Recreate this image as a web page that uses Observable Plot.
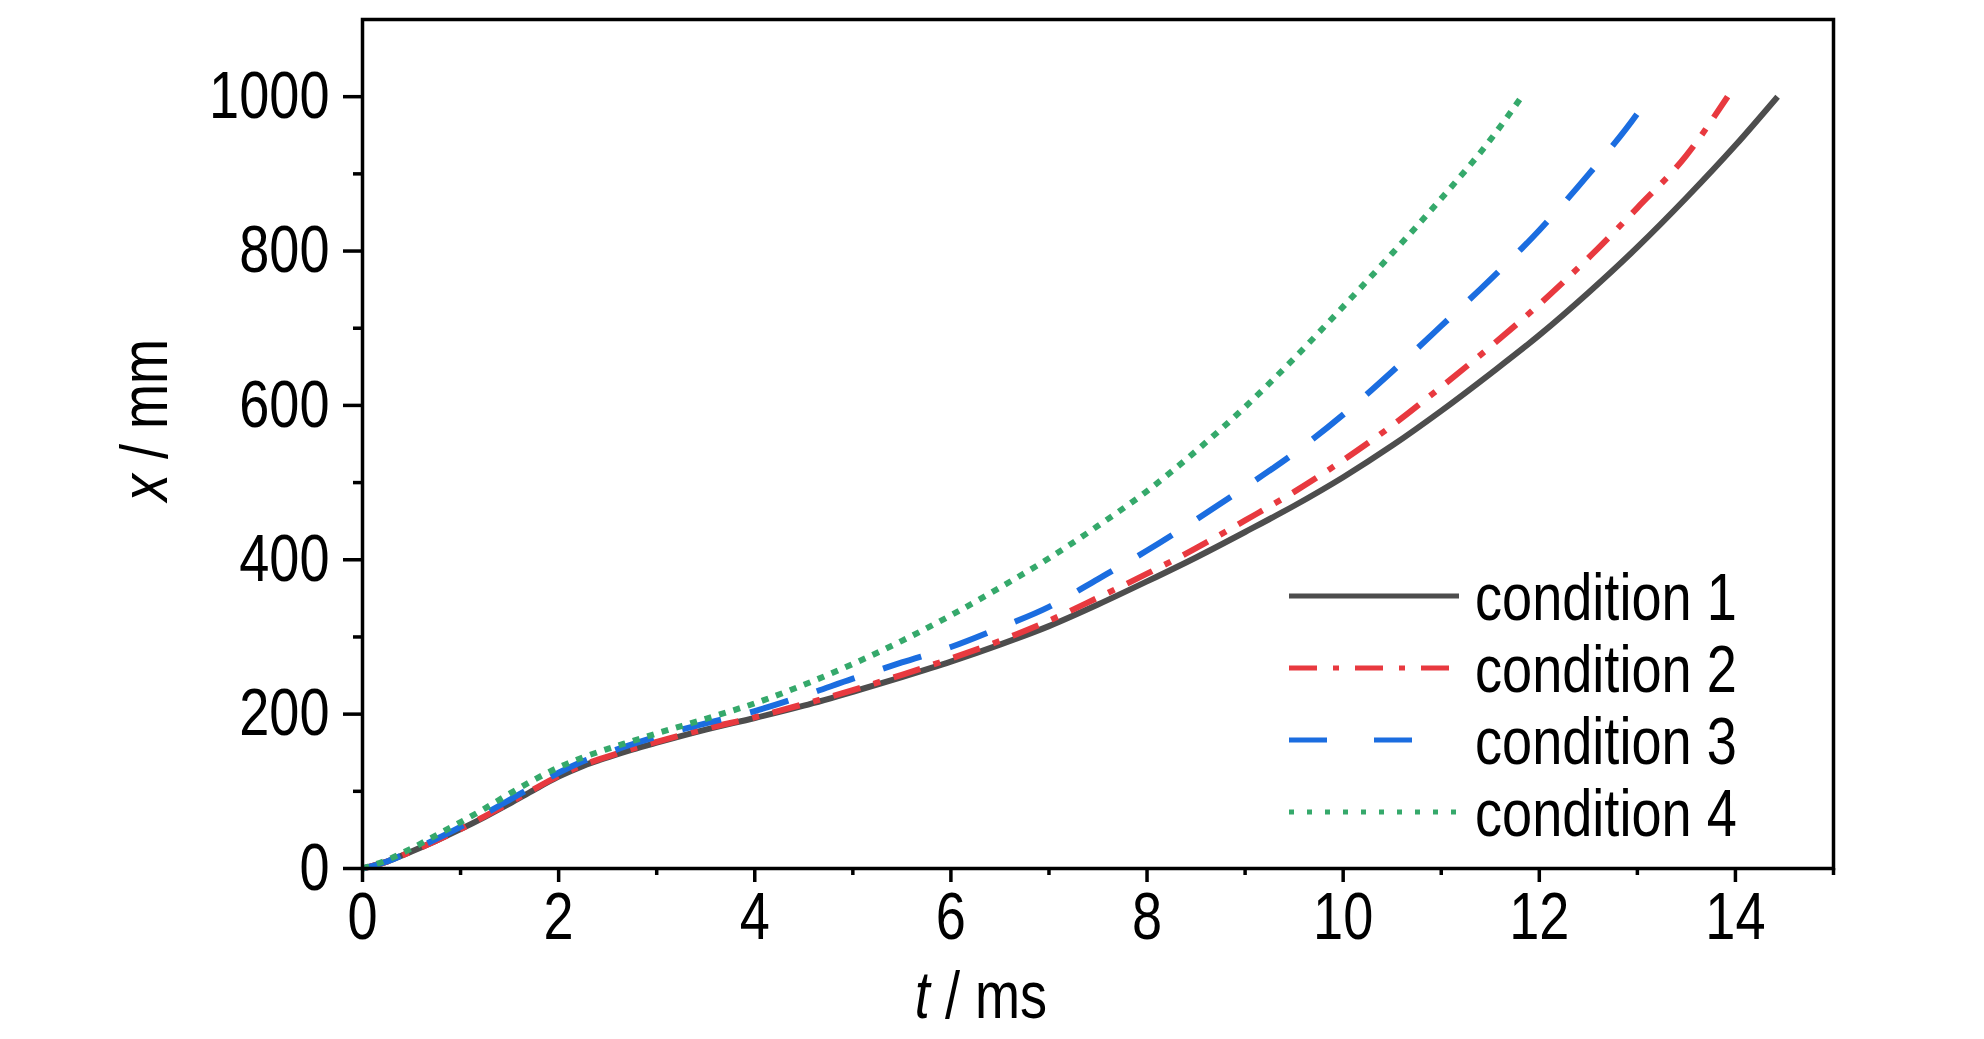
<!DOCTYPE html>
<html>
<head>
<meta charset="utf-8">
<script src="https://cdn.jsdelivr.net/npm/d3@7"></script>
<script src="https://cdn.jsdelivr.net/npm/@observablehq/plot@0.6"></script>
<style>
  html, body { margin: 0; padding: 0; background: #ffffff; }
  #chart { position: relative; width: 1984px; height: 1039px; }
</style>
</head>
<body>
<div id="chart"></div>
<script>
// ---- data (t in ms, x in mm) ----
const conditions = ["condition 1", "condition 2", "condition 3", "condition 4"];
const colors = ["#4d4d4d", "#e8393f", "#1b6de0", "#35a96b"];

const t1 = [0,0.25,0.5,0.75,1,1.25,1.5,1.75,2,2.25,2.5,2.75,3,3.5,4,4.5,5,5.5,6,6.5,7,7.5,8,8.5,9,9.5,10,10.5,11,11.5,12,12.5,13,13.5,14,14.43];
const x1 = [0,9,22,36,51,67,84,102,119,133,144,154,163,180,195,211,229,248,268,290,314,342,372,403,436,470,507,548,593,641,691,746,805,869,937,1000];

const t2 = [0,0.25,0.5,0.75,1,1.25,1.5,1.75,2,2.25,2.5,2.75,3,3.5,4,4.5,5,5.5,6,6.5,7,7.5,8,8.5,9,9.5,10,10.5,11,11.5,12,12.5,13,13.5,13.92];
const x2 = [0,9,22,36,51,68,85,103,120,134,145,155,164,181,196,213,231,251,272,295,321,351,382,415,451,488,529,574,624,676,731,791,856,924,1000];

const t3 = [0,0.25,0.5,0.75,1,1.25,1.5,1.75,2,2.25,2.5,2.75,3,3.5,4,4.5,5,5.5,6,6.5,7,7.5,8,8.5,9,9.5,10,10.5,11,11.5,12,12.5,13,13.12];
const x3 = [0,9,23,38,54,71,89,107,124,139,150,161,171,188,204,224,246,267,287,312,339,375,412,452,494,538,588,644,703,763,827,899,978,1000];

const t4 = [0,0.25,0.5,0.75,1,1.25,1.5,1.75,2,2.25,2.5,2.75,3,3.5,4,4.5,5,5.5,6,6.5,7,7.5,8,8.5,9,9.5,10,10.5,11,11.5,11.82];
const x4 = [0,11,26,43,60,78,97,115,131,144,155,165,175,194,214,238,265,295,328,364,402,444,489,541,598,661,728,797,868,944,1000];

const xMajor = [0,2,4,6,8,10,12,14];
const xMinor = [1,3,5,7,9,11,13,15];
const yMajor = [0,200,400,600,800,1000];
const yMinor = [100,300,500,700,900];

// ---- build tables ----
const series = [[t1,x1],[t2,x2],[t3,x3],[t4,x4]].map(([ts, xs], i) =>
  ts.map((t, j) => ({t, x: xs[j], c: conditions[i]})));

const dashes = [null, "28,14,7,14", "40,30", "7,8"];
const legendDashes = [null, "28,16,6,16", "38,47,38,400", "5,13"];

const W = 1984, H = 1039;
const mL = 362, mR = 151, mT = 19, mB = 171;
const FS = 66;
const SX = 0.82; // horizontal condensing (Arial Narrow look)
const fam = '"Liberation Sans", Arial, sans-serif';

const marks = [];
series.forEach((d, i) => {
  marks.push(Plot.line(d, {
    x: "t", y: "x", stroke: colors[i], strokeWidth: 6,
    strokeDasharray: dashes[i], curve: "monotone-x", strokeLinecap: "butt"
  }));
});

const plot = Plot.plot({
  width: W, height: H,
  marginLeft: mL, marginRight: mR, marginTop: mT, marginBottom: mB,
  x: {domain: [0, 15]},
  y: {domain: [0, 1100]},
  style: {background: "transparent", color: "#000", fontFamily: fam},
  marks: [
    ...marks,
    Plot.axisX({ticks: xMajor, tickSize: 14, tickPadding: 10, fontSize: FS, strokeWidth: 3.5, tickFormat: d => String(d), label: null}),
    Plot.axisX({ticks: xMinor, tickSize: 7, strokeWidth: 3.5, tickFormat: null, text: null, label: null}),
    Plot.axisY({ticks: yMajor, tickSize: 19, tickPadding: 14, fontSize: FS, strokeWidth: 3.5, tickFormat: d => String(d), label: null}),
    Plot.axisY({ticks: yMinor, tickSize: 9, strokeWidth: 3.5, tickFormat: null, text: null, label: null}),
    Plot.frame({stroke: "#000", strokeWidth: 3.5})
  ]
});

document.getElementById("chart").appendChild(plot);

// condense tick labels horizontally around their anchor
d3.select(plot).selectAll("text").each(function() {
  const tr = this.getAttribute("transform") || "";
  this.setAttribute("transform", (tr + ` scale(${SX},1)`).trim());
});

// ---- axis titles and legend ----
const svg = d3.select(plot);

const yt = svg.append("text")
  .attr("transform", `translate(167,420) rotate(-90) scale(${SX},1)`)
  .attr("text-anchor", "middle")
  .attr("font-size", FS).attr("font-family", fam).attr("fill", "#000");
yt.append("tspan").attr("font-style", "italic").text("x");
yt.append("tspan").text(" / mm");

const xt = svg.append("text")
  .attr("transform", `translate(981,1018) scale(${SX},1)`)
  .attr("text-anchor", "middle")
  .attr("font-size", FS).attr("font-family", fam).attr("fill", "#000");
xt.append("tspan").attr("font-style", "italic").text("t");
xt.append("tspan").text(" / ms");

const legendRows = [596, 668, 740, 812];
const lg = svg.append("g");
lg.append("rect").attr("x", 1282).attr("y", 548).attr("width", 500).attr("height", 312).attr("fill", "#ffffff");
conditions.forEach((c, i) => {
  lg.append("line")
    .attr("x1", 1289).attr("x2", 1459)
    .attr("y1", legendRows[i]).attr("y2", legendRows[i])
    .attr("stroke", colors[i]).attr("stroke-width", 5)
    .attr("stroke-dasharray", legendDashes[i]);
  lg.append("text")
    .attr("transform", `translate(1475,${legendRows[i]}) scale(${SX},1)`)
    .attr("dy", "0.36em")
    .attr("text-anchor", "start")
    .attr("font-size", FS).attr("font-family", fam).attr("fill", "#000")
    .text(c);
});
</script>
</body>
</html>
